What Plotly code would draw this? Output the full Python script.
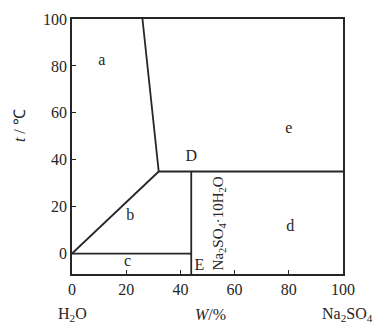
import plotly.graph_objects as go

# Phase-diagram boundary curves (W% Na2SO4, t/°C)
liquidus_ice_w = [0, 32]          # curve b upper boundary (from origin to D)
liquidus_ice_t = [0, 35]
liquidus_anh_w = [26, 32]         # steep curve from top to D
liquidus_anh_t = [100, 35]
peritectic_w = [32, 100]          # horizontal line through D
peritectic_t = [35, 35]
eutectic_w = [0, 44]              # horizontal line c/E
eutectic_t = [0, 0]
hydrate_w = [44, 44]              # Na2SO4·10H2O composition line
hydrate_t = [35, -8.7]

x_ticks = [0, 20, 40, 60, 80, 100]
y_ticks = [0, 20, 40, 60, 80, 100]
x_range = [0, 100]
y_range = [-8.7, 100]

region_labels = ["a", "b", "c", "d", "e", "D", "E"]
region_x = [11, 21.5, 20.5, 80.5, 80, 44, 47]
region_y = [82, 16, -3.5, 11.5, 53, 41, -5.5]

FONT = "Liberation Serif"
INK = "#262626"

fig = go.Figure()
for xs, ys in [(liquidus_ice_w, liquidus_ice_t), (liquidus_anh_w, liquidus_anh_t),
               (peritectic_w, peritectic_t), (eutectic_w, eutectic_t),
               (hydrate_w, hydrate_t)]:
    fig.add_trace(go.Scatter(x=xs, y=ys, mode="lines",
                             line=dict(color=INK, width=1.8),
                             hoverinfo="skip", showlegend=False))

fig.add_trace(go.Scatter(x=region_x, y=region_y, mode="text", text=region_labels,
                         textfont=dict(family=FONT, size=16, color=INK),
                         hoverinfo="skip", showlegend=False))

fig.update_layout(
    width=380, height=328,
    margin=dict(l=72, r=37, t=11, b=54),
    paper_bgcolor="white", plot_bgcolor="white",
    showlegend=False,
    font=dict(family=FONT, size=16, color=INK),
    annotations=[
        dict(x=54.2, y=12.8, xref="x", yref="y",
             text="Na<sub>2</sub>SO<sub>4</sub>·10H<sub>2</sub>O",
             textangle=-90, showarrow=False,
             font=dict(family=FONT, size=15, color=INK)),
        dict(x=0.0, y=0.0, xref="paper", yref="paper", yshift=-40,
             text="H<sub>2</sub>O", showarrow=False, xanchor="center", yanchor="middle"),
        dict(x=0.51, y=0.0, xref="paper", yref="paper", yshift=-40,
             text="<i>W</i>/%", showarrow=False, xanchor="center", yanchor="middle"),
        dict(x=1.0, y=0.0, xref="paper", yref="paper", yshift=-40, xshift=4,
             text="Na<sub>2</sub>SO<sub>4</sub>", showarrow=False, xanchor="center",
             yanchor="middle"),
        dict(x=0.0, y=0.58, xref="paper", yref="paper", xshift=-53,
             text="<i>t</i> / ℃", textangle=-90, showarrow=False, xanchor="center",
             yanchor="middle"),
    ],
    xaxis=dict(range=x_range, tickvals=x_ticks, ticks="inside", ticklen=4, tickwidth=1.3,
               tickcolor=INK, showline=True, linecolor=INK, linewidth=1.8, mirror=True,
               showgrid=False, zeroline=False, tickfont=dict(family=FONT, size=16, color=INK),
               fixedrange=True),
    yaxis=dict(range=y_range, tickvals=y_ticks, ticks="inside", ticklen=4, tickwidth=1.3,
               tickcolor=INK, showline=True, linecolor=INK, linewidth=1.8, mirror=True,
               showgrid=False, zeroline=False, tickfont=dict(family=FONT, size=16, color=INK),
               fixedrange=True),
)

fig.write_html("out.html")
